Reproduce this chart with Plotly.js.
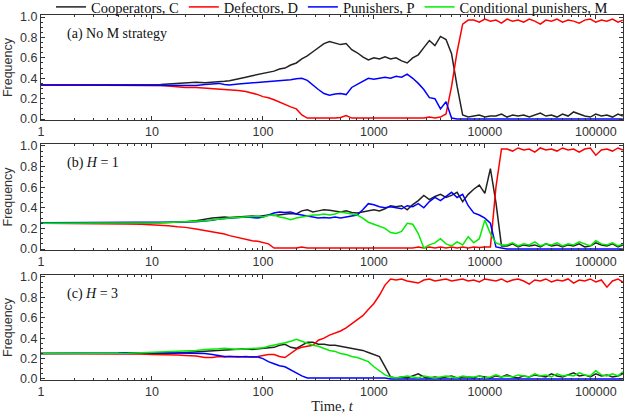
<!DOCTYPE html>
<html>
<head>
<meta charset="utf-8">
<script src="https://cdn.plot.ly/plotly-3.0.1.min.js"></script>
<style>
  html, body { margin: 0; padding: 0; background: #fff; }
  #chart { width: 625px; height: 418px; }
</style>
</head>
<body>
<div id="chart"></div>
<script>
// time steps (log scale)
const time = [1, 2, 3, 4, 5, 6, 8, 10, 12, 14, 17, 20, 25, 30, 35, 40, 45, 50, 60, 70, 80, 90,
  100, 112, 126, 141, 158, 178, 200, 224, 251, 282, 316, 355, 398, 447, 501, 562, 631, 708, 794, 891,
  1000, 1122, 1259, 1413, 1585, 1778, 1995, 2239, 2512, 2818, 3162, 3548, 3981, 4467, 5012, 5623, 6310, 7079, 7943, 8913,
  10000, 11220, 12589, 14125, 15849, 17783, 19953, 22387, 25119, 28184, 31623, 35481, 39811, 44668, 50119, 56234, 63096, 70795, 79433, 89125,
  100000, 112202, 125893, 141254, 158489, 175000];

const timeTicks = [1, 10, 100, 1000, 10000, 100000];
const timeTickText = ["1", "10", "100", "1000", "10000", "100000"];

// (a) No M strategy
const aCoop = [.333, .333, .333, .333, .333, .333, .335, .338, .34, .345, .35, .355,
  .36, .355, .36, .36, .37, .375, .39, .41, .425, .435, .445, .455,
  .47, .49, .5, .53, .55, .59, .62, .66, .7, .74, .76, .745,
  .73, .74, .68, .65, .61, .58, .6, .59, .61, .59, .6, .57,
  .55, .6, .63, .7, .77, .72, .81, .78, .64, .32, .04, .02,
  .03, .04, .02, .03, .03, .05, .02, .04, .03, .04, .02, .04, .06, .03,
  .04, .02, .05, .03, .07, .05, .03, .02, .05, .03, .04, .02, .05, .03];
const aDef = [.333, .333, .333, .333, .333, .333, .332, .33, .33, .325, .315, .31,
  .31, .305, .30, .295, .29, .285, .28, .27, .255, .24, .22, .21,
  .19, .165, .14, .12, .10, .04, .01, .01, .005, .005, .01, .01,
  .015, .035, .01, .01, .01, .01, .01, .015, .01, .01, .015, .01,
  .01, .01, .015, .01, .02, .01, .02, .05, .32, .66, .93, .97,
  .97, .95, .98, .96, .97, .94, .98, .96, .97, .95, .98, .96, .93, .97,
  .96, .98, .95, .97, .96, .94, .97, .98, .95, .97, .96, .98, .95, .97];
const aPun = [.333, .333, .333, .333, .333, .333, .333, .332, .33, .33, .335, .335,
  .33, .34, .345, .35, .34, .335, .345, .35, .355, .36, .36, .365,
  .37, .375, .38, .385, .395, .40, .38, .33, .29, .25, .235, .245,
  .25, .24, .31, .34, .37, .40, .39, .40, .41, .40, .42, .41,
  .44, .40, .35, .29, .21, .20, .10, .17, .01, 0, 0, 0,
  0, 0, 0, 0, 0, 0, 0, 0, 0, 0, 0, 0, 0, 0,
  0, 0, 0, 0, 0, 0, 0, 0, 0, 0, 0, 0, 0, 0];

// (b) H = 1
const bCoop = [.25, .25, .25, .25, .25, .25, .252, .252, .255, .258, .26, .265,
  .275, .29, .3, .305, .31, .305, .31, .315, .32, .315, .325, .33,
  .325, .33, .34, .345, .34, .37, .38, .36, .37, .38, .375, .37,
  .36, .37, .355, .35, .36, .37, .38, .37, .39, .42, .41, .42,
  .38, .43, .47, .52, .48, .51, .53, .50, .52, .55, .46, .53,
  .58, .62, .54, .78, .45, .03,
  .03, .05, .02, .04, .03, .04, .02, .05, .03, .04, .02,
  .04, .03, .05, .02, .03, .06, .04, .03, .05, .02, .04];
const bDef = [.25, .25, .248, .247, .245, .243, .24, .235, .23, .225, .215, .21,
  .195, .18, .17, .16, .145, .13, .11, .09, .08, .075, .065, .05,
  .01, .01, .01, .015, .01, .02, .01, .01, .01, .01, .01, .01,
  .01, .01, .01, .01, .01, .015, .01, .01, .01, .01, .015, .01,
  .01, .01, .02, .01, .02, .01, .02, .01, .02, .01, .02, .01,
  .02, .015, .02, .02, .6, .97,
  .97, .95, .98, .96, .97, .94, .98, .96, .97, .95, .98,
  .96, .97, .94, .97, .98, .91, .96, .97, .95, .98, .96];
const bPun = [.255, .255, .255, .255, .255, .255, .255, .255, .255, .258, .26, .262,
  .265, .27, .28, .29, .295, .30, .305, .31, .305, .30, .31, .33,
  .35, .36, .355, .36, .34, .33, .32, .31, .30, .305, .30, .31,
  .30, .31, .32, .33, .38, .44, .43, .41, .40, .41, .40, .39,
  .42, .41, .44, .40, .46, .50, .47, .51, .55, .50, .53, .42,
  .35, .33, .30, .25, .02, .01,
  0, 0, 0, 0, 0, 0, 0, 0, 0, 0, 0,
  0, 0, 0, 0, 0, 0, 0, 0, 0, 0, 0];
const bCond = [.25, .25, .25, .25, .25, .25, .25, .252, .255, .258, .26, .265,
  .27, .275, .28, .29, .295, .30, .305, .31, .32, .32, .31, .325,
  .33, .31, .30, .285, .30, .31, .32, .33, .33, .34, .33, .34,
  .36, .35, .34, .33, .30, .26, .24, .22, .20, .16, .15, .17,
  .25, .24, .15, .01, .04, .06, .10, .05, .03, .07, .04, .12,
  .06, .10, .28, .15, .06, .04,
  .04, .06, .03, .05, .04, .07, .03, .05, .04, .06, .03,
  .05, .04, .07, .05, .03, .08, .05, .04, .06, .03, .05];

// (c) H = 3
const cCoop = [.25, .25, .25, .25, .25, .248, .245, .245, .25, .25, .255, .26,
  .265, .27, .275, .28, .28, .285, .29, .295, .29, .295, .30, .30,
  .31, .33, .34, .31, .30, .33, .36, .36, .34, .34, .33, .33,
  .32, .31, .30, .29, .28, .26, .24, .22, .12, .02,
  .01, .02, .01, .03, .05, .02, .01, .02, .01, .02, .03, .01, .02, .02,
  .01, .03, .02, .01, .03, .02, .04, .02, .01, .03, .02, .04, .03, .02,
  .05, .03, .02, .04, .06, .03, .04, .02, .05, .03, .04, .02, .03, .05];
const cDef = [.25, .25, .25, .25, .25, .248, .245, .24, .24, .24, .235, .23,
  .225, .21, .21, .22, .215, .22, .215, .22, .215, .22, .23, .24,
  .24, .22, .21, .25, .29, .31, .32, .33, .38, .40, .43, .45,
  .47, .50, .54, .58, .62, .68, .74, .82, .92, .98,
  .97, .98, .96, .95, .94, .97, .98, .96, .97, .98, .96, .97, .98, .96,
  .97, .95, .98, .97, .96, .98, .95, .97, .98, .96, .93, .97, .96, .98,
  .95, .97, .96, .98, .94, .97, .96, .98, .95, .97, .90, .96, .98, .95];
const cPun = [.25, .25, .25, .25, .255, .258, .26, .26, .26, .258, .255, .255,
  .255, .25, .24, .23, .22, .22, .22, .22, .22, .215, .20, .17,
  .15, .13, .12, .09, .06, .03, .01, .01, .01, .01, .015, .01,
  .01, .01, .01, .01, .01, .01, .01, .01, .01, 0,
  0, 0, 0, 0, 0, 0, 0, 0, 0, 0, 0, 0, 0, 0,
  0, 0, 0, 0, 0, 0, 0, 0, 0, 0, 0, 0, 0, 0,
  0, 0, 0, 0, 0, 0, 0, 0, 0, 0, 0, 0, 0, 0];
const cCond = [.25, .25, .25, .25, .25, .252, .258, .262, .265, .268, .27, .275,
  .28, .29, .29, .295, .30, .295, .29, .295, .30, .30, .305, .32,
  .33, .34, .355, .37, .39, .37, .35, .33, .32, .30, .28, .27,
  .25, .24, .22, .21, .19, .17, .12, .08, .04, .02,
  .01, .02, .03, .02, .01, .03, .02, .01, .02, .03, .02, .01, .03, .02,
  .02, .03, .01, .02, .04, .02, .03, .02, .04, .03, .02, .05, .03, .04,
  .02, .05, .03, .04, .03, .06, .04, .03, .08, .04, .03, .05, .03, .07];

const names = ["Cooperators, C", "Defectors, D", "Punishers, P", "Conditional punishers, M"];
const colors = ["#222222", "#ff0000", "#0000ff", "#00ee00"];

function line(y, k, xa, ya, legend) {
  return {
    x: time, y: y,
    type: "scatter", mode: "lines",
    name: names[k],
    line: { color: colors[k], width: 1.5 },
    xaxis: xa, yaxis: ya,
    showlegend: legend,
  };
}

const data = [
  line(bCoop, 0, "x2", "y2", true),
  line(bDef, 1, "x2", "y2", true),
  line(bPun, 2, "x2", "y2", true),
  line(bCond, 3, "x2", "y2", true),
  line(aCoop, 0, "x", "y", false),
  line(aDef, 1, "x", "y", false),
  line(aPun, 2, "x", "y", false),
  line(cCoop, 0, "x3", "y3", false),
  line(cDef, 1, "x3", "y3", false),
  line(cPun, 2, "x3", "y3", false),
  line(cCond, 3, "x3", "y3", false),
];

const sans = "Liberation Sans, Arial, sans-serif";
const serif = "Liberation Serif, Times New Roman, serif";

function xAxis(anchor, title) {
  return {
    type: "log",
    range: [0, 5.245],
    anchor: anchor,
    tickmode: "array",
    tickvals: timeTicks,
    ticktext: timeTickText,
    ticks: "inside",
    ticklen: 4,
    tickcolor: "#333",
    minor: { dtick: "D1", ticks: "inside", ticklen: 2, tickcolor: "#333", showgrid: false },
    showline: true,
    linecolor: "#333",
    linewidth: 1,
    mirror: "ticks",
    showgrid: false,
    zeroline: false,
    tickfont: { family: sans, size: 12.5, color: "#333" },
    title: title ? { text: title, font: { family: serif, size: 14.5, color: "#222" }, standoff: 2 } : undefined,
  };
}

function yAxis(domain, anchor) {
  return {
    domain: domain,
    anchor: anchor,
    range: [-0.01, 1.02],
    tick0: 0,
    dtick: 0.2,
    tickformat: ".1f",
    ticks: "inside",
    ticklen: 4,
    tickcolor: "#333",
    minor: { dtick: 0.05, ticks: "inside", ticklen: 2, tickcolor: "#333", showgrid: false },
    showline: true,
    linecolor: "#333",
    linewidth: 1,
    mirror: "ticks",
    showgrid: false,
    zeroline: false,
    tickfont: { family: sans, size: 12.5, color: "#333" },
    title: { text: "Frequency", font: { family: sans, size: 12.5, color: "#333" }, standoff: 4 },
  };
}

function label(text, yref) {
  return {
    text: text, xref: "x domain", yref: yref, x: 0.041, y: 0.82,
    xanchor: "left", yanchor: "middle", showarrow: false,
    font: { family: serif, size: 14, color: "#111" },
  };
}

const layout = {
  width: 625,
  height: 418,
  margin: { t: 15, l: 41, r: 2, b: 38, autoexpand: false },
  paper_bgcolor: "#fff",
  plot_bgcolor: "#fff",
  xaxis: xAxis("y"),
  xaxis2: xAxis("y2"),
  xaxis3: xAxis("y3", "Time, <i>t</i>"),
  yaxis: yAxis([0.712, 1], "x"),
  yaxis2: yAxis([0.356, 0.647], "x2"),
  yaxis3: yAxis([0, 0.288], "x3"),
  showlegend: true,
  legend: {
    orientation: "h",
    x: 0.5,
    xanchor: "center",
    y: 1.022,
    yanchor: "middle",
    bgcolor: "rgba(0,0,0,0)",
    font: { family: serif, size: 14.5, color: "#111" },
    itemwidth: 30,
  },
  annotations: [
    label("(a) No M strategy", "y domain"),
    label("(b) <i>H</i> = 1", "y2 domain"),
    label("(c) <i>H</i> = 3", "y3 domain"),
  ],
};

Plotly.newPlot("chart", data, layout, { displayModeBar: false, staticPlot: true });
</script>
</body>
</html>
